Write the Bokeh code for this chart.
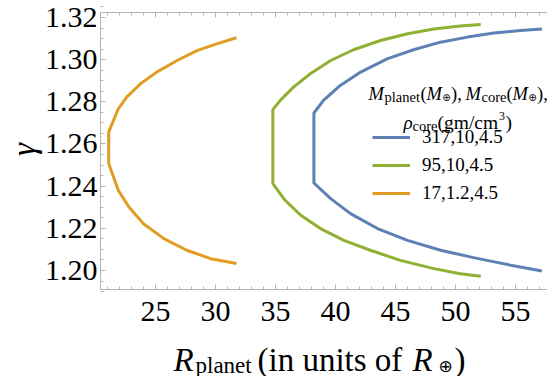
import math
from bokeh.plotting import figure
from bokeh.models import (Range1d, LinearAxis, FixedTicker, Label, Legend, LegendItem,
                          PrintfTickFormatter, CustomJSTickFormatter)
from bokeh.embed import file_html
from bokeh.resources import INLINE

# ---------------- data ----------------
r_317 = [57.2, 55.4, 53.2, 51.0, 48.75, 46.5, 44.3, 42.1, 40.4, 39.0, 38.2,
         38.2, 39.6, 41.25, 43.5, 46.0, 48.75, 51.5, 54.6, 57.2]
g_317 = [1.3145, 1.3138, 1.3126, 1.3107, 1.3083, 1.3047, 1.3004, 1.2941, 1.2878, 1.2807, 1.2747,
         1.2415, 1.2341, 1.2270, 1.2199, 1.2143, 1.2096, 1.2061, 1.2025, 1.1998]

r_95 = [52.1, 50.4, 48.2, 46.0, 43.75, 41.5, 39.6, 37.9, 36.5, 35.4, 34.78,
        34.78, 35.8, 37.1, 38.75, 40.7, 42.9, 45.4, 48.2, 50.4, 52.1]
g_95 = [1.3167, 1.3160, 1.3145, 1.3123, 1.3091, 1.3047, 1.2996, 1.2933, 1.2870, 1.2807, 1.2763,
        1.2412, 1.2333, 1.2262, 1.2199, 1.2143, 1.2096, 1.2048, 1.2009, 1.1985, 1.1973]

r_17 = [31.75, 30.1, 28.5, 26.8, 25.1, 23.75, 22.6, 21.9, 21.1,
        21.1, 21.9, 22.8, 24.0, 25.7, 27.6, 29.6, 31.75]
g_17 = [1.3104, 1.3075, 1.3044, 1.2996, 1.2941, 1.2886, 1.2822, 1.2767, 1.2656,
        1.2507, 1.2380, 1.2300, 1.2222, 1.2151, 1.2096, 1.2056, 1.2033]

series_labels = ["317,10,4.5", "95,10,4.5", "17,1.2,4.5"]
colors = ["#5E81B5", "#8FB032", "#E19C24"]

x_ticks = [25, 30, 35, 40, 45, 50, 55]
y_ticks = [1.20, 1.22, 1.24, 1.26, 1.28, 1.30, 1.32]

# ---------------- layout (canvas pixel calibration) ----------------
W, H = 547, 376
PX_PER_X = 12.0                 # R=25 at x 155
PX_PER_Y = 2108.3               # gamma=1.32 at y 17, 1.20 at y 270
def px2d(px, py):
    return 25 + (px - 155) / PX_PER_X, 1.32 - (py - 17) / PX_PER_Y

XA, YA = px2d(0, 0)
XB, YB = px2d(W, H)
XL, YT = px2d(100, 12)          # visible plot box
XR, YBOT = px2d(W, 289)

p = figure(width=W, height=H, output_backend="svg", toolbar_location=None,
           x_range=Range1d(XA, XB), y_range=Range1d(YB, YA),
           min_border=0)
p.outline_line_color = None
p.grid.visible = False
p.background_fill_color = "white"
p.border_fill_color = "white"

SERIF = "Liberation Serif"
AX_COL = "#b4b4b4"

def style_axis(ax, ticks, minor, fixed, bounds, fmt=None):
    ax.ticker = FixedTicker(ticks=ticks, minor_ticks=minor)
    ax.fixed_location = fixed
    ax.bounds = bounds
    ax.axis_line_color = AX_COL
    ax.major_tick_line_color = AX_COL
    ax.minor_tick_line_color = AX_COL
    ax.major_tick_in = 5
    ax.major_tick_out = 0
    ax.minor_tick_in = 3
    ax.minor_tick_out = 0
    ax.major_label_text_font = SERIF
    ax.major_label_text_font_size = "30px"
    ax.major_label_text_color = "black"
    if fmt is not None:
        ax.formatter = fmt

x_minor = [v for v in range(21, 58)]
y_minor = [round(1.19 + 0.005 * i, 3) for i in range(28)]

style_axis(p.xaxis[0], x_ticks, x_minor, YBOT, (XL, XR))
p.xaxis[0].major_label_standoff = 12
style_axis(p.yaxis[0], y_ticks, y_minor, XL, (YBOT, YT), PrintfTickFormatter(format="%.2f"))
p.yaxis[0].major_label_standoff = 3

top = LinearAxis()
style_axis(top, x_ticks, x_minor, YT, (XL, XR), CustomJSTickFormatter(code="return ''"))
p.add_layout(top, "above")

# ---------------- curves ----------------
rends = []
for xs, ys, c in [(r_317, g_317, colors[0]), (r_95, g_95, colors[1]), (r_17, g_17, colors[2])]:
    rends.append(p.line(xs, ys, line_color=c, line_width=3))

legend = Legend(items=[LegendItem(label=l, renderers=[r]) for l, r in zip(series_labels, rends)],
                location=(372, H - 204),
                padding=0, margin=0, spacing=6,
                glyph_width=38, glyph_height=22, label_height=22, label_standoff=12,
                border_line_color=None, background_fill_alpha=0,
                label_text_font=SERIF, label_text_font_size="19px", label_text_color="black")
p.add_layout(legend, "center")

# ---------------- texts ----------------
def txt(t, px, py, size, italic=False, align="left", baseline="alphabetic", angle=0.0,
        font=SERIF):
    x, y = px2d(px, py)
    p.add_layout(Label(x=x, y=y, text=t, text_font=font, text_font_size=f"{size}px",
                       text_font_style="italic" if italic else "normal",
                       text_align=align, text_baseline=baseline, angle=angle,
                       text_color="black"))

# y-axis label
txt("γ", 23, 149, 33, italic=True, align="center", baseline="middle", angle=math.pi / 2)

# x-axis label: R_planet (in units of R_⊕)
txt("R", 173, 359, 33, italic=True)
txt("planet", 195, 364.5, 23)
txt("(in units of", 257, 359, 33)
txt("R", 412, 359, 33, italic=True)
txt("⊕", 445, 365, 17, align="center", baseline="middle", font="DejaVu Sans")
txt(")", 454, 359, 33)

# legend title, line 1: M_planet(M_⊕), M_core(M_⊕),
txt("M", 368, 93, 18.5, italic=True)
txt("planet", 384, 96.5, 14.5)
txt("(", 420, 93, 18.5)
txt("M", 426, 93, 18.5, italic=True)
txt("⊕", 446, 96.5, 10, align="center", baseline="middle", font="DejaVu Sans")
txt("), ", 450.5, 93, 18.5)
txt("M", 465, 93, 18.5, italic=True)
txt("core", 481, 96.5, 14.5)
txt("(", 506, 93, 18.5)
txt("M", 512, 93, 18.5, italic=True)
txt("⊕", 532, 96.5, 10, align="center", baseline="middle", font="DejaVu Sans")
txt("),", 536.5, 93, 18.5)

# legend title, line 2: rho_core(gm/cm^3)
txt("ρ", 403, 122, 19, italic=True)
txt("core", 412, 125.5, 14.5)
txt("(gm/cm", 437, 122, 19.5)
txt("3", 498.5, 115, 12)
txt(")", 505, 122, 19.5)

open("out.html", "w").write(file_html(p, INLINE))
